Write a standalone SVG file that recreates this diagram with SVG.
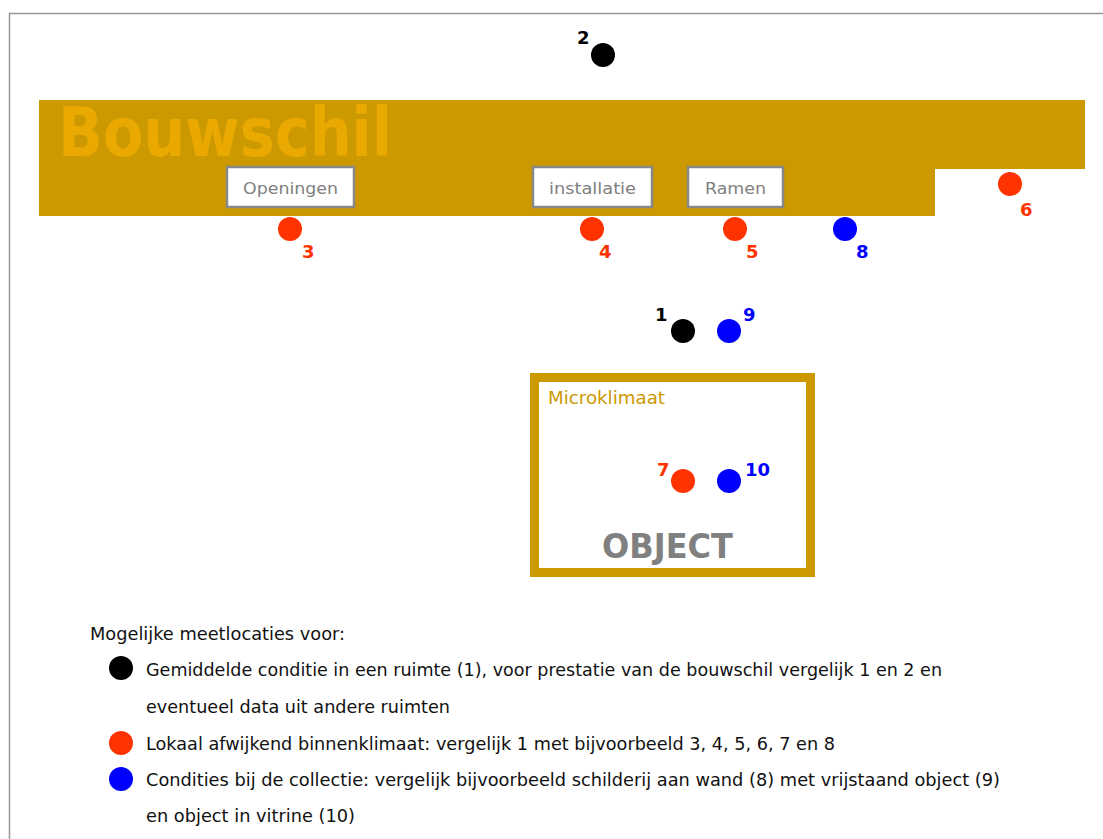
<svg xmlns="http://www.w3.org/2000/svg" width="1103" height="839" viewBox="0 0 1103 839">
<style>
text{font-family:"DejaVu Sans","Liberation Sans",Arial,sans-serif}
.lbl{fill:#808080;font-size:16px;text-anchor:middle}
.box{fill:#fff;stroke:#888;stroke-width:2.5}
.num{font-size:18px;font-weight:bold}
.k{fill:#000}.r{fill:#FF3300}.b{fill:#0000FF}
.leg{font-size:17px;fill:#111}
</style>
<rect width="1103" height="839" fill="#fff"/>
<path d="M9.5 839V13.5H1103" fill="none" stroke="#999" stroke-width="1.5"/>
<g id="bouwschil">
<path d="M39 100H1085V169H935V216H39Z" fill="#CC9900"/>
<text x="58" y="156" font-size="68" font-weight="bold" fill="#E9A900" textLength="334" lengthAdjust="spacingAndGlyphs">Bouwschil</text>
</g>
<g id="openingen"><rect class="box" x="227" y="167" width="127" height="40"/><text class="lbl" x="290.5" y="194" textLength="95" lengthAdjust="spacingAndGlyphs">Openingen</text></g>
<g id="installatie"><rect class="box" x="533" y="167" width="119" height="40"/><text class="lbl" x="592.5" y="194" textLength="87" lengthAdjust="spacingAndGlyphs">installatie</text></g>
<g id="ramen"><rect class="box" x="688" y="167" width="95" height="40"/><text class="lbl" x="735.5" y="194" textLength="61" lengthAdjust="spacingAndGlyphs">Ramen</text></g>
<g id="object">
<rect x="534.5" y="377.5" width="276" height="195" fill="#fff" stroke="#CC9900" stroke-width="9"/>
<text x="548" y="404" font-size="17" fill="#CC9900" textLength="117" lengthAdjust="spacingAndGlyphs">Microklimaat</text>
<text x="602" y="558" font-size="33" font-weight="bold" fill="#808080" textLength="131" lengthAdjust="spacingAndGlyphs">OBJECT</text>
</g>
<g id="p2"><circle class="k" cx="603" cy="55" r="12"/><text class="num k" x="577" y="44">2</text></g>
<g id="p3"><circle class="r" cx="290" cy="229" r="12"/><text class="num r" x="302" y="258">3</text></g>
<g id="p4"><circle class="r" cx="592" cy="229" r="12"/><text class="num r" x="599" y="258">4</text></g>
<g id="p5"><circle class="r" cx="735" cy="229" r="12"/><text class="num r" x="746" y="258">5</text></g>
<g id="p8"><circle class="b" cx="845" cy="229" r="12"/><text class="num b" x="856" y="258">8</text></g>
<g id="p6"><circle class="r" cx="1010" cy="184" r="12"/><text class="num r" x="1020" y="216">6</text></g>
<g id="p1"><circle class="k" cx="683" cy="331" r="12"/><text class="num k" x="655" y="321">1</text></g>
<g id="p9"><circle class="b" cx="729" cy="331" r="12"/><text class="num b" x="743" y="321">9</text></g>
<g id="p7"><circle class="r" cx="683" cy="481" r="12"/><text class="num r" x="657" y="476">7</text></g>
<g id="p10"><circle class="b" cx="729" cy="481" r="12"/><text class="num b" x="745" y="476">10</text></g>
<g id="legend">
<text class="leg" x="90" y="640" textLength="255" lengthAdjust="spacingAndGlyphs">Mogelijke meetlocaties voor:</text>
<circle class="k" cx="121" cy="668" r="12"/>
<circle class="r" cx="121" cy="743" r="12"/>
<circle class="b" cx="121" cy="779" r="12"/>
<text class="leg" x="146" y="676" textLength="796" lengthAdjust="spacingAndGlyphs">Gemiddelde conditie in een ruimte (1), voor prestatie van de bouwschil vergelijk 1 en 2 en</text>
<text class="leg" x="146" y="713" textLength="304" lengthAdjust="spacingAndGlyphs">eventueel data uit andere ruimten</text>
<text class="leg" x="146" y="750" textLength="689" lengthAdjust="spacingAndGlyphs">Lokaal afwijkend binnenklimaat: vergelijk 1 met bijvoorbeeld 3, 4, 5, 6, 7 en 8</text>
<text class="leg" x="146" y="786" textLength="854" lengthAdjust="spacingAndGlyphs">Condities bij de collectie: vergelijk bijvoorbeeld schilderij aan wand (8) met vrijstaand object (9)</text>
<text class="leg" x="146" y="822" textLength="209" lengthAdjust="spacingAndGlyphs">en object in vitrine (10)</text>
</g>
</svg>
